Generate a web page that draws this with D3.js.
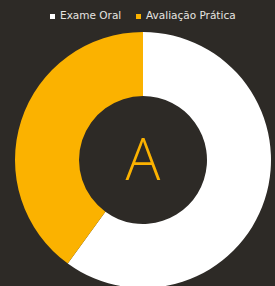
<!DOCTYPE html>
<html>
<head>
<meta charset="utf-8">
<script src="https://cdn.jsdelivr.net/npm/d3@7"></script>
<style>
  body { margin: 0; background: #2d2a26; }
  svg { display: block; }
</style>
</head>
<body>
<div id="vis"></div>
<script>
var width = 275;
var height = 286;

var labels = ["Exame Oral", "Avaliação Prática"];
var values = [60, 40];
var colors = ["#ffffff", "#fbb200"];
var centerText = "A";

var cx = 143, cy = 160;
var outerR = 128, innerR = 64;

var svg = d3.select("#vis")
  .append("svg")
  .attr("width", width)
  .attr("height", height);

svg.append("rect")
  .attr("width", width)
  .attr("height", height)
  .attr("fill", "#2d2a26");

var pie = d3.pie().sort(null).value(d => d);
var arc = d3.arc().innerRadius(innerR).outerRadius(outerR);

var g = svg.append("g").attr("transform", `translate(${cx},${cy})`);

g.selectAll("path")
  .data(pie(values))
  .enter()
  .append("path")
  .attr("d", arc)
  .attr("fill", (d, i) => colors[i]);

g.append("text")
  .attr("text-anchor", "middle")
  .attr("dy", "0.35em")
  .attr("fill", "#fbb200")
  .style("font", "300 58px 'Open Sans', Lato, sans-serif")
  .text(centerText);

// legend
var legendX = [50, 136];
var legend = svg.append("g")
  .style("font", "10.5px 'DejaVu Sans', sans-serif");

legend.selectAll("rect")
  .data(labels)
  .enter()
  .append("rect")
  .attr("x", (d, i) => legendX[i])
  .attr("y", 14)
  .attr("width", 5)
  .attr("height", 5)
  .attr("fill", (d, i) => colors[i]);

legend.selectAll("text")
  .data(labels)
  .enter()
  .append("text")
  .attr("x", (d, i) => legendX[i] + 10)
  .attr("y", 19)
  .attr("fill", "#e6e4e0")
  .text(d => d);
</script>
</body>
</html>
